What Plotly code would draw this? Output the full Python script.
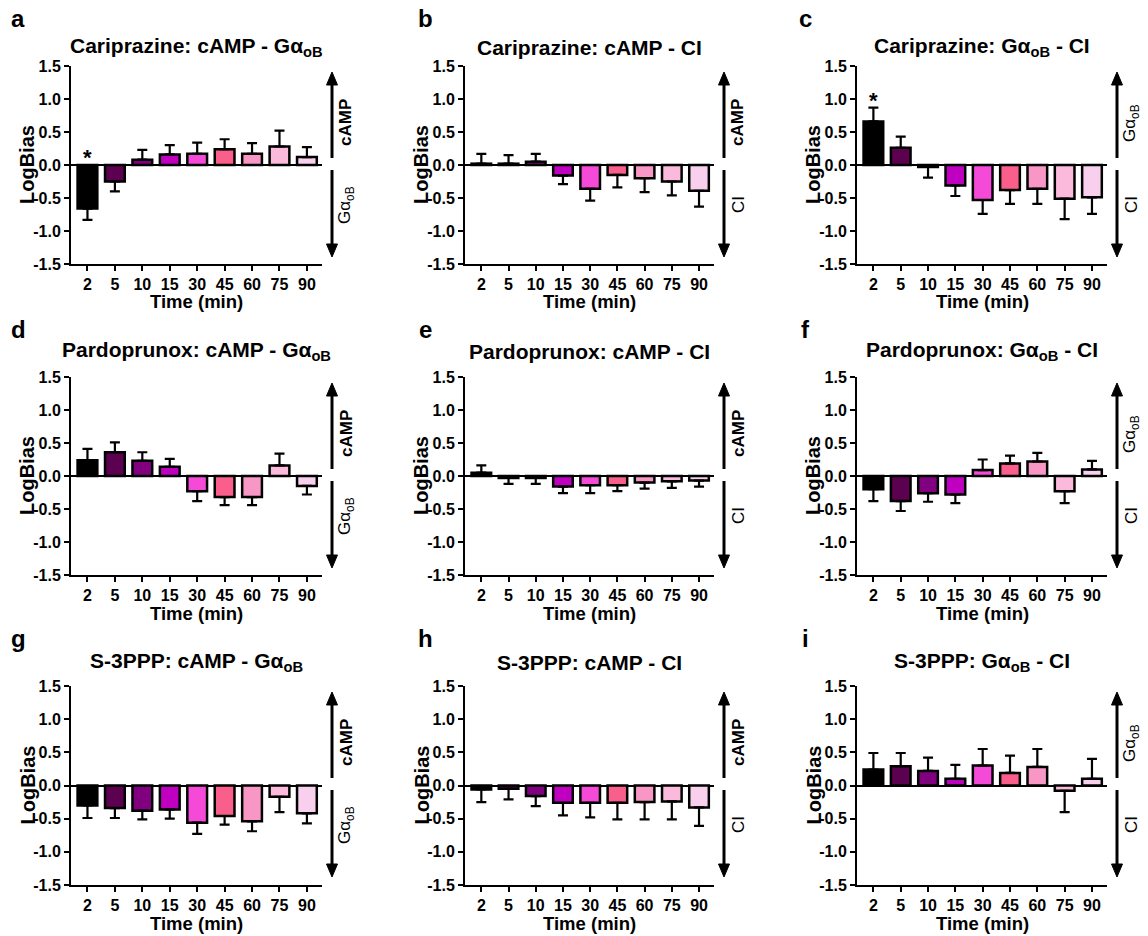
import plotly.graph_objects as go

W, H = 1148, 936
FONT = "Liberation Sans"

time_labels = ["2", "5", "10", "15", "30", "45", "60", "75", "90"]
bar_colors = ["#000000", "#5c0050", "#800080", "#c000c0", "#f54ad8",
              "#fa5f8c", "#f896c6", "#fbbadc", "#f8d0ee"]
ytick_vals = [-1.5, -1.0, -0.5, 0.0, 0.5, 1.0, 1.5]
ytick_text = ["-1.5", "-1.0", "-0.5", "0.0", "0.5", "1.0", "1.5"]

# LogBias mean values and SEM
carip_camp_goB = [-0.66, -0.25, 0.08, 0.16, 0.17, 0.24, 0.17, 0.28, 0.12]
carip_camp_goB_sem = [0.17, 0.15, 0.15, 0.14, 0.17, 0.15, 0.16, 0.24, 0.15]
carip_camp_ci = [0.02, 0.02, 0.05, -0.16, -0.36, -0.15, -0.20, -0.25, -0.39]
carip_camp_ci_sem = [0.15, 0.13, 0.12, 0.13, 0.18, 0.19, 0.21, 0.21, 0.24]
carip_goB_ci = [0.66, 0.26, -0.03, -0.31, -0.53, -0.38, -0.36, -0.51, -0.49]
carip_goB_ci_sem = [0.21, 0.17, 0.16, 0.16, 0.21, 0.21, 0.23, 0.31, 0.25]

pardo_camp_goB = [0.24, 0.36, 0.23, 0.14, -0.23, -0.32, -0.32, 0.16, -0.15]
pardo_camp_goB_sem = [0.17, 0.15, 0.13, 0.12, 0.15, 0.12, 0.12, 0.18, 0.13]
pardo_camp_ci = [0.05, -0.03, -0.03, -0.16, -0.14, -0.14, -0.10, -0.08, -0.07]
pardo_camp_ci_sem = [0.11, 0.09, 0.09, 0.10, 0.12, 0.09, 0.09, 0.10, 0.09]
pardo_goB_ci = [-0.20, -0.38, -0.26, -0.28, 0.09, 0.19, 0.22, -0.23, 0.10]
pardo_goB_ci_sem = [0.18, 0.15, 0.13, 0.13, 0.16, 0.12, 0.13, 0.18, 0.13]

s3ppp_camp_goB = [-0.30, -0.34, -0.38, -0.36, -0.56, -0.46, -0.54, -0.17, -0.42]
s3ppp_camp_goB_sem = [0.19, 0.15, 0.13, 0.14, 0.17, 0.13, 0.15, 0.23, 0.15]
s3ppp_camp_ci = [-0.06, -0.05, -0.16, -0.26, -0.26, -0.26, -0.25, -0.24, -0.33]
s3ppp_camp_ci_sem = [0.19, 0.16, 0.15, 0.19, 0.22, 0.25, 0.26, 0.27, 0.28]
s3ppp_goB_ci = [0.24, 0.29, 0.22, 0.10, 0.30, 0.19, 0.28, -0.08, 0.10]
s3ppp_goB_ci_sem = [0.25, 0.20, 0.20, 0.21, 0.25, 0.26, 0.27, 0.32, 0.30]

GOB = "G\u03b1<sub>oB</sub>"
panels = [
    ("a", "Cariprazine: cAMP - " + GOB, carip_camp_goB, carip_camp_goB_sem, "cAMP", GOB, [0]),
    ("b", "Cariprazine: cAMP - CI", carip_camp_ci, carip_camp_ci_sem, "cAMP", "CI", []),
    ("c", "Cariprazine: " + GOB + " - CI", carip_goB_ci, carip_goB_ci_sem, GOB, "CI", [0]),
    ("d", "Pardoprunox: cAMP - " + GOB, pardo_camp_goB, pardo_camp_goB_sem, "cAMP", GOB, []),
    ("e", "Pardoprunox: cAMP - CI", pardo_camp_ci, pardo_camp_ci_sem, "cAMP", "CI", []),
    ("f", "Pardoprunox: " + GOB + " - CI", pardo_goB_ci, pardo_goB_ci_sem, GOB, "CI", []),
    ("g", "S-3PPP: cAMP - " + GOB, s3ppp_camp_goB, s3ppp_camp_goB_sem, "cAMP", GOB, []),
    ("h", "S-3PPP: cAMP - CI", s3ppp_camp_ci, s3ppp_camp_ci_sem, "cAMP", "CI", []),
    ("i", "S-3PPP: " + GOB + " - CI", s3ppp_goB_ci, s3ppp_goB_ci_sem, GOB, "CI", []),
]

# layout geometry in page pixels
col_x = [(71, 322), (465, 714), (857, 1107)]
letter_x = [18, 425, 805]
row_y = [(66, 264), (377, 575), (686, 885)]
title_y = [47, 351, 662]


def px(x):
    return x / W


def py(y):
    return 1 - y / H


fig = go.Figure()
annotations = []
shapes = []
layout_axes = {}


def arrow(xc, y_tail, y_head):
    """vertical arrow drawn as a line plus a filled triangular head (page pixels)"""
    d = 1 if y_head > y_tail else -1
    head_len, head_half = 13, 5.5
    base = y_head - d * head_len
    shapes.append(dict(type="line", xref="paper", yref="paper",
                       x0=px(xc), x1=px(xc), y0=py(y_tail), y1=py(base),
                       line=dict(color="black", width=3)))
    path = "M %f,%f L %f,%f L %f,%f Z" % (px(xc - head_half), py(base),
                                          px(xc + head_half), py(base),
                                          px(xc), py(y_head))
    shapes.append(dict(type="path", xref="paper", yref="paper", path=path,
                       fillcolor="black", line=dict(color="black", width=1)))


for k, (letter, title, vals, sem, up_lbl, dn_lbl, stars) in enumerate(panels):
    r, c = divmod(k, 3)
    n = k + 1
    xs = "" if n == 1 else str(n)
    x0, x1 = col_x[c]
    y0, y1 = row_y[r]
    xpos = list(range(len(time_labels)))
    plus = [s if v >= 0 else 0 for v, s in zip(vals, sem)]
    minus = [0 if v >= 0 else s for v, s in zip(vals, sem)]
    fig.add_trace(go.Bar(
        x=xpos, y=vals, width=0.72,
        marker=dict(color=bar_colors, line=dict(color="black", width=2.5)),
        error_y=dict(type="data", symmetric=False, array=plus, arrayminus=minus,
                     color="black", thickness=2.2, width=5),
        xaxis="x" + xs, yaxis="y" + xs, showlegend=False, hoverinfo="skip",
    ))
    layout_axes["xaxis" + xs] = dict(
        domain=[px(x0), px(x1)], anchor="y" + xs, range=[-0.6, 8.55],
        tickvals=xpos, ticktext=time_labels, showline=True, linecolor="black",
        linewidth=2, ticks="outside", ticklen=5, tickwidth=2, tickcolor="black",
        showgrid=False, zeroline=False, automargin=False, fixedrange=True,
        tickfont=dict(family=FONT, size=16, color="black", weight="bold"),
    )
    layout_axes["yaxis" + xs] = dict(
        domain=[py(y1), py(y0)], anchor="x" + xs, range=[-1.5, 1.5],
        tickvals=ytick_vals, ticktext=ytick_text, showline=True, linecolor="black",
        linewidth=2, ticks="outside", ticklen=5, tickwidth=2, tickcolor="black",
        showgrid=False, zeroline=True, zerolinecolor="black", zerolinewidth=2,
        automargin=False, fixedrange=True,
        tickfont=dict(family=FONT, size=16, color="black", weight="bold"),
    )
    annotations.append(dict(text="<b>%s</b>" % letter, xref="paper", yref="paper",
                            x=px(letter_x[c]), y=py(y0 - 48), xanchor="center",
                            yanchor="middle", showarrow=False,
                            font=dict(family=FONT, size=24, color="black")))
    annotations.append(dict(text="<b>%s</b>" % title, xref="paper", yref="paper",
                            x=px((x0 + x1) / 2), y=py(title_y[r]), xanchor="center",
                            yanchor="middle", showarrow=False,
                            font=dict(family=FONT, size=21, color="black")))
    annotations.append(dict(text="<b>LogBias</b>", xref="paper", yref="paper",
                            x=px(x0 - 44), y=py((y0 + y1) / 2), textangle=-90,
                            xanchor="center", yanchor="middle", showarrow=False,
                            font=dict(family=FONT, size=20, color="black")))
    annotations.append(dict(text="<b>Time (min)</b>", xref="paper", yref="paper",
                            x=px((x0 + x1) / 2), y=py(y1 + 38), xanchor="center",
                            yanchor="middle", showarrow=False,
                            font=dict(family=FONT, size=18.5, color="black")))
    ax_x = x1 + 10
    arrow(ax_x, y0 + 92, y0 + 6)
    arrow(ax_x, y0 + 104, y0 + 191)
    up_txt = "<b>cAMP</b>" if up_lbl == "cAMP" else up_lbl
    annotations.append(dict(text=up_txt, xref="paper", yref="paper", x=px(ax_x + 14),
                            y=py(y0 + 57), textangle=-90, xanchor="center", yanchor="middle",
                            showarrow=False, font=dict(family=FONT, size=17, color="black")))
    annotations.append(dict(text=dn_lbl, xref="paper", yref="paper", x=px(ax_x + 14),
                            y=py(y0 + 139), textangle=-90, xanchor="center", yanchor="middle",
                            showarrow=False, font=dict(family=FONT, size=17, color="black")))
    for si in stars:
        top = max(0, vals[si] + plus[si])
        annotations.append(dict(text="<b>*</b>", xref="x" + xs, yref="y" + xs, x=si, y=top,
                                xanchor="center", yanchor="bottom", yshift=-7,
                                showarrow=False,
                                font=dict(family=FONT, size=22, color="black")))

fig.update_layout(
    width=W, height=H, margin=dict(l=0, r=0, t=0, b=0, autoexpand=False),
    paper_bgcolor="white", plot_bgcolor="white",
    annotations=annotations, shapes=shapes, bargap=0.3,
    **layout_axes,
)

fig.write_html("out.html", config={"displayModeBar": False},
               post_script="document.body.style.margin='0';"
                           "document.documentElement.style.overflow='hidden';")
